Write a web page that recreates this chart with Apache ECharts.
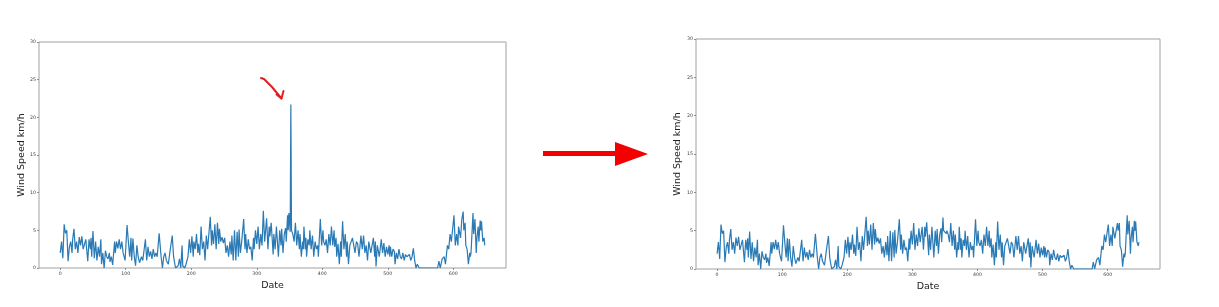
<!DOCTYPE html>
<html>
<head>
<meta charset="utf-8">
<script src="https://cdn.jsdelivr.net/npm/echarts@6/dist/echarts.min.js"></script>
<style>
html,body{margin:0;padding:0;background:#fff;}
#chart{width:1219px;height:307px;}
</style>
</head>
<body>
<div id="chart"></div>
<script>
// Date index (x) of every sampled point
const dateIdx = [
  0,2,4,6,8,10,12,14,16,18,
  19,21,23,25,27,29,31,33,35,37,
  39,42,44,46,47,48,50,52,54,56,
  58,60,62,63,65,67,69,71,73,75,
  76,78,80,83,84,86,88,90,92,94,
  96,99,102,104,106,108,109,111,113,115,
  117,119,121,124,126,130,132,134,136,138,
  140,142,144,146,148,151,154,156,158,160,
  162,165,168,171,173,176,178,180,182,184,
  186,187,190,192,195,197,199,201,203,204,
  206,208,210,211,213,215,217,219,221,223,
  225,229,231,232,234,236,238,240,242,243,
  245,247,249,251,253,255,257,259,261,262,
  264,266,268,270,272,273,275,277,280,282,
  283,285,287,289,291,293,295,296,298,300,
  302,304,306,308,310,312,315,317,319,320,
  322,325,326,328,330,333,335,337,338,340,
  342,344,345,347,348,349,351,352,353,355,
  357,359,361,363,365,366,368,370,371,372,
  374,375,376,378,380,381,383,385,387,389,
  391,393,394,397,399,401,402,404,406,408,
  410,412,414,416,418,419,421,422,424,426,
  428,429,430,431,433,435,437,438,440,442,
  446,448,450,452,454,456,459,461,463,465,
  467,469,471,474,478,480,481,482,484,487,
  490,492,494,496,498,500,502,503,504,506,
  508,510,511,513,515,517,519,521,523,525,
  527,529,531,533,535,537,539,541,543,545,
  548,576,578,580,583,586,588,591,593,595,
  597,601,603,605,607,608,611,613,615,616,
  618,619,621,622,623,625,626,627,630,631,
  633,635,636,638,639,641,642,643,645,647,
  648
];
// Wind speed before cleaning (left chart, with outlier)
const speedRaw = [
  2.0,3.5,1.3,5.8,4.6,5.0,0.9,2.8,3.5,2.0,
  3.8,5.2,2.5,3.5,2.0,4.1,3.0,4.2,2.5,2.5,
  3.8,0.9,3.8,2.5,4.0,1.5,4.9,1.3,3.5,1.0,
  2.8,1.5,3.8,0.5,2.0,0.0,2.3,1.5,1.2,2.0,
  0.8,1.5,0.4,3.5,2.0,3.5,2.6,3.8,2.5,3.5,
  2.0,1.0,5.7,3.5,1.5,4.0,1.0,3.9,1.5,0.3,
  3.0,1.5,0.7,1.5,1.0,3.8,1.0,2.8,1.5,2.2,
  1.2,2.5,1.5,2.0,1.5,4.6,1.5,0.0,1.5,2.0,
  1.0,0.5,2.5,4.3,1.5,0.0,0.0,0.3,1.2,0.0,
  3.0,0.3,0.0,0.5,1.5,3.8,2.0,4.2,1.5,3.5,
  2.5,4.5,2.0,3.2,1.7,5.5,2.5,3.5,1.0,4.3,
  2.5,6.8,3.0,5.0,3.2,5.8,2.5,6.0,3.2,5.2,
  3.5,4.1,3.3,4.0,2.0,3.0,1.5,3.5,1.8,4.3,
  1.0,5.0,1.0,4.8,1.5,5.1,2.0,3.5,6.5,2.5,
  4.5,2.0,3.8,2.5,2.8,1.0,4.0,2.5,5.0,3.2,
  5.5,2.5,4.5,3.0,7.6,3.5,6.6,2.5,5.5,4.2,
  6.0,1.8,4.5,2.5,5.5,1.5,5.0,3.0,5.2,2.0,
  4.5,5.3,3.5,7.0,5.0,7.3,4.8,21.7,5.0,4.5,
  3.5,6.0,3.0,5.0,2.5,4.5,1.5,3.5,2.5,5.5,
  2.5,4.0,1.5,3.8,3.0,5.0,2.5,4.3,1.5,3.5,
  2.5,3.0,1.5,6.5,3.0,5.0,3.5,3.0,3.8,2.0,
  4.5,3.0,5.5,3.0,5.0,2.8,4.0,1.5,3.2,0.5,
  3.5,1.5,4.0,6.2,2.5,4.5,1.5,3.5,0.5,3.0,
  4.0,3.8,2.0,3.5,3.2,1.5,4.3,2.5,4.3,2.0,
  3.0,1.0,3.5,2.0,4.0,1.5,3.5,0.2,3.0,1.5,
  3.8,2.0,3.3,1.5,2.8,1.8,3.0,1.5,2.8,1.5,
  2.5,2.2,0.5,2.0,1.2,2.5,1.5,1.2,2.0,1.0,
  1.8,1.5,1.3,1.8,1.0,1.5,2.6,1.0,0.0,0.5,
  0.0,0.0,0.9,0.0,1.2,1.5,0.5,3.0,2.5,4.5,
  3.5,7.0,3.0,4.5,3.0,5.5,4.0,6.5,7.5,5.0,
  6.0,3.0,2.5,1.5,0.5,2.0,1.5,2.0,7.3,4.5,
  6.5,2.0,4.0,5.5,3.5,6.3,5.0,6.2,3.5,4.0,
  3.0
];
// Wind speed after cleaning (right chart)
const speedClean = [
  2.0,3.5,1.3,5.8,4.6,5.0,0.9,2.8,3.5,2.0,
  3.8,5.2,2.5,3.5,2.0,4.1,3.0,4.2,2.5,2.5,
  3.8,0.9,3.8,2.5,4.0,1.5,4.9,1.3,3.5,1.0,
  2.8,1.5,3.8,0.5,2.0,0.0,2.3,1.5,1.2,2.0,
  0.8,1.5,0.4,3.5,2.0,3.5,2.6,3.8,2.5,3.5,
  2.0,1.0,5.7,3.5,1.5,4.0,1.0,3.9,1.5,0.3,
  3.0,1.5,0.7,1.5,1.0,3.8,1.0,2.8,1.5,2.2,
  1.2,2.5,1.5,2.0,1.5,4.6,1.5,0.0,1.5,2.0,
  1.0,0.5,2.5,4.3,1.5,0.0,0.0,0.3,1.2,0.0,
  3.0,0.3,0.0,0.5,1.5,3.8,2.0,4.2,1.5,3.5,
  2.5,4.5,2.0,3.2,1.7,5.5,2.5,3.5,1.0,4.3,
  2.5,6.8,3.0,5.0,3.2,5.8,2.5,6.0,3.2,5.2,
  3.5,4.1,3.3,4.0,2.0,3.0,1.5,3.5,1.8,4.3,
  1.0,5.0,1.0,4.8,1.5,5.1,2.0,3.5,6.5,2.5,
  4.5,2.0,3.8,2.5,2.8,1.0,4.0,2.5,5.0,3.2,
  6.0,2.5,4.5,3.0,5.3,3.5,5.5,2.5,5.5,4.2,
  6.1,1.8,4.5,2.5,5.5,1.5,5.0,3.0,5.2,2.0,
  4.5,5.3,3.5,6.7,5.0,5.0,4.8,4.6,5.0,4.5,
  3.5,6.0,3.0,5.0,2.5,4.5,1.5,3.5,2.5,5.5,
  2.5,4.0,1.5,3.8,3.0,5.0,2.5,4.3,1.5,3.5,
  2.5,3.0,1.5,6.5,3.0,5.0,3.5,3.0,3.8,2.0,
  4.5,3.0,5.5,3.0,5.0,2.8,4.0,1.5,3.2,0.5,
  3.5,1.5,4.0,6.2,2.5,4.5,1.5,3.5,0.5,3.0,
  4.0,3.8,2.0,3.5,3.2,1.5,4.3,2.5,4.3,2.0,
  3.0,1.0,3.5,2.0,4.0,1.5,3.5,0.2,3.0,1.5,
  3.8,2.0,3.3,1.5,2.8,1.8,3.0,1.5,2.8,1.5,
  2.5,2.2,0.5,2.0,1.2,2.5,1.5,1.2,2.0,1.0,
  1.8,1.5,1.3,1.8,1.0,1.5,2.6,1.0,0.0,0.5,
  0.0,0.0,0.9,0.0,1.2,1.5,0.5,3.0,2.5,4.5,
  3.5,5.8,3.0,4.5,3.0,5.5,4.0,5.0,6.0,5.0,
  6.0,3.0,2.5,1.5,0.3,2.0,1.5,2.0,7.0,4.5,
  6.3,2.0,4.0,5.5,3.5,6.3,5.0,6.2,3.5,3.0,
  3.5
];
const xTicks = [0, 100, 200, 300, 400, 500, 600];
const yTicks = [0, 5, 10, 15, 20, 25, 30];

const pairs = (xs, ys) => xs.map((x, i) => [x, ys[i]]);
const FONT = 'DejaVu Sans';

function xAxis(gridIndex, gap) {
  return {
    type: 'value', gridIndex: gridIndex, min: -32.4, max: 680.4,
    name: 'Date', nameLocation: 'middle', nameGap: gap,
    nameTextStyle: {fontFamily: FONT, fontSize: 9.5, color: '#222'},
    axisLine: {show: false, onZero: false},
    axisTick: {show: true, length: 2, customValues: xTicks, lineStyle: {color: '#777', width: 0.8}},
    axisLabel: {customValues: xTicks, fontFamily: FONT, fontSize: 4.7, color: '#444', margin: 3},
    splitLine: {show: false}
  };
}
function yAxis(gridIndex, gap) {
  return {
    type: 'value', gridIndex: gridIndex, min: 0, max: 30, interval: 5,
    name: 'Wind Speed km/h', nameLocation: 'middle', nameGap: gap, nameRotate: 90,
    nameTextStyle: {fontFamily: FONT, fontSize: 9.5, color: '#222'},
    axisLine: {show: false, onZero: false},
    axisTick: {show: true, length: 2, customValues: yTicks, lineStyle: {color: '#777', width: 0.8}},
    axisLabel: {customValues: yTicks, fontFamily: FONT, fontSize: 4.7, color: '#444', margin: 3},
    splitLine: {show: false}
  };
}
function lineSeries(idx, data) {
  return {
    type: 'line', xAxisIndex: idx, yAxisIndex: idx, data: data,
    showSymbol: false, symbol: 'none', smooth: false,
    lineStyle: {color: '#2a7ab5', width: 1.2},
    animation: false, silent: true
  };
}

const chart = echarts.init(document.getElementById('chart'), null, {renderer: 'canvas'});
chart.setOption({
  backgroundColor: '#fff',
  animation: false,
  grid: [
    {left: 39, top: 42, width: 467, height: 226, show: true, borderColor: '#a0a0a0', borderWidth: 1, backgroundColor: 'transparent'},
    {left: 696, top: 39, width: 464, height: 230, show: true, borderColor: '#a0a0a0', borderWidth: 1, backgroundColor: 'transparent'}
  ],
  xAxis: [xAxis(0, 9), xAxis(1, 10)],
  yAxis: [yAxis(0, 12), yAxis(1, 13)],
  series: [lineSeries(0, pairs(dateIdx, speedRaw)), lineSeries(1, pairs(dateIdx, speedClean))],
  graphic: [
    {type: 'rect', shape: {x: 543, y: 151, width: 74, height: 5}, style: {fill: '#f40000'}},
    {type: 'polygon', shape: {points: [[615, 142], [648, 154], [615, 166]]}, style: {fill: '#f40000'}},
    {type: 'polyline', shape: {points: [[261, 78], [264, 79], [272, 87], [281.5, 98.5]]},
     style: {stroke: '#e02020', lineWidth: 2, fill: null, lineCap: 'round', lineJoin: 'round'}},
    {type: 'polyline', shape: {points: [[276.5, 94.5], [281.5, 98.5], [283.5, 91]]},
     style: {stroke: '#e02020', lineWidth: 2, fill: null, lineCap: 'round', lineJoin: 'round'}}
  ]
});
</script>
</body>
</html>
